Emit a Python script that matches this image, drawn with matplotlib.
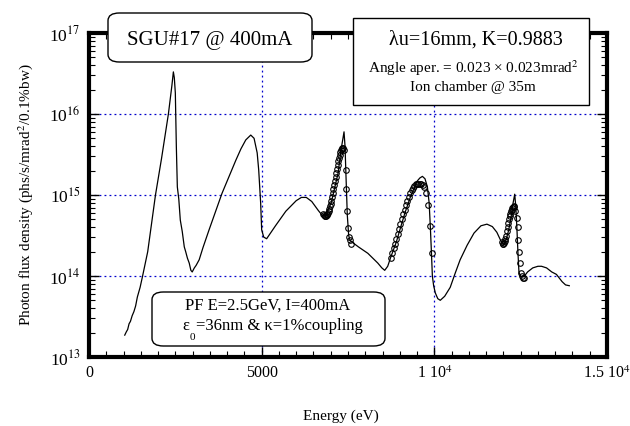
import matplotlib
matplotlib.use('Agg')
import matplotlib.pyplot as plt
from matplotlib.patches import FancyBboxPatch, Rectangle
from matplotlib.ticker import MultipleLocator, LogLocator, NullFormatter
import numpy as np

plt.rcParams['font.family'] = ['Liberation Serif', 'DejaVu Serif']
plt.rcParams['mathtext.fontset'] = 'stix'

# calculated spectrum (energy in eV, log10 of flux density)
calc_e = [1035, 1080, 1120, 1160, 1200, 1250, 1300, 1350, 1400, 1480, 1552, 1700, 1925, 2100,
          2299, 2400, 2443, 2470, 2500, 2529, 2558, 2600, 2644, 2700, 2759, 2800, 2850, 2902,
          2950, 2989, 3050, 3100, 3190, 3300, 3477, 3851, 4253, 4400, 4540, 4684, 4780, 4870,
          4914, 4971, 5000, 5060, 5144, 5400, 5700, 6000, 6150, 6293, 6450, 6638, 6750, 6840,
          7012, 7213, 7300, 7385, 7414, 7443, 7480, 7520, 7560, 7644, 7800, 8075, 8362, 8480,
          8563, 8650, 8736, 8900, 9023, 9150, 9310, 9500, 9580, 9655, 9730, 9799, 9850, 9885,
          9915, 9943, 9980, 10029, 10100, 10172, 10300, 10460, 10600, 10747, 10950, 11149, 11350,
          11523, 11680, 11810, 11920, 12011, 12080, 12155, 12230, 12280, 12328, 12360, 12390,
          12420, 12450, 12500, 12590, 12700, 12850, 13000, 13104, 13250, 13400, 13535, 13700,
          13800, 13908]
calc_logf = [13.27, 13.31, 13.34, 13.41, 13.44, 13.51, 13.56, 13.63, 13.74, 13.86, 14.00, 14.30, 15.00, 15.45,
             16.00, 16.35, 16.52, 16.45, 16.26, 15.60, 15.10, 14.95, 14.69, 14.55, 14.36, 14.30, 14.22, 14.16,
             14.07, 14.05, 14.10, 14.13, 14.20, 14.35, 14.57, 15.02, 15.43, 15.57, 15.68, 15.74, 15.70, 15.52,
             15.31, 14.90, 14.57, 14.48, 14.46, 14.62, 14.80, 14.93, 14.97, 14.97, 14.92, 14.81, 14.75, 14.74,
             14.90, 15.27, 15.56, 15.78, 15.60, 15.22, 14.75, 14.50, 14.44, 14.41, 14.36, 14.28, 14.16, 14.10,
             14.07, 14.12, 14.23, 14.42, 14.60, 14.78, 14.98, 15.17, 15.21, 15.23, 15.20, 15.10, 14.90, 14.60,
             14.30, 14.00, 13.88, 13.79, 13.72, 13.70, 13.75, 13.86, 14.03, 14.20, 14.38, 14.53, 14.62,
             14.64, 14.61, 14.54, 14.44, 14.38, 14.45, 14.57, 14.75, 14.90, 15.01, 14.85, 14.60,
             14.30, 14.05, 13.99, 13.99, 14.05, 14.10, 14.12, 14.12, 14.10, 14.05, 14.02, 13.93,
             13.89, 13.88]

# measured points
meas_e = [6780, 6800, 6820, 6840, 6860, 6880, 6900, 6920, 6940, 6960, 6980, 7000, 7020, 7040,
          7060, 7080, 7100, 7120, 7140, 7160, 7180, 7200, 7220, 7240, 7260, 7280, 7300, 7320,
          7340, 7360, 7380, 7430, 7450, 7480, 7500, 7520, 7550, 7580,
          8740, 8780, 8820, 8860, 8900, 8940, 8980, 9020, 9060, 9100, 9140, 9180, 9220, 9260,
          9300, 9340, 9380, 9420, 9460, 9500, 9540, 9580, 9620, 9660, 9700, 9760, 9820, 9880, 9920,
          11960, 11980, 12000, 12020, 12040, 12060, 12080, 12100, 12120, 12140, 12160, 12180,
          12200, 12220, 12240, 12260, 12280, 12300, 12320, 12350, 12380, 12410, 12430, 12450,
          12470, 12500, 12530, 12560, 12590]
meas_logf = [14.76, 14.75, 14.74, 14.74, 14.74, 14.75, 14.76, 14.78, 14.80, 14.83, 14.86, 14.89, 14.93, 14.97,
             15.02, 15.07, 15.12, 15.17, 15.22, 15.27, 15.32, 15.37, 15.42, 15.46, 15.50, 15.53, 15.55, 15.57,
             15.58, 15.58, 15.55, 15.31, 15.07, 14.80, 14.59, 14.48, 14.44, 14.40,
             14.22, 14.28, 14.34, 14.40, 14.46, 14.52, 14.58, 14.64, 14.70, 14.76, 14.82, 14.88, 14.93, 14.98,
             15.02, 15.06, 15.09, 15.11, 15.13, 15.14, 15.14, 15.14, 15.13, 15.12, 15.10, 15.02, 14.88, 14.62, 14.28,
             14.42, 14.40, 14.40, 14.41, 14.43, 14.46, 14.50, 14.55, 14.60, 14.65, 14.70, 14.74,
             14.77, 14.80, 14.82, 14.84, 14.85, 14.86, 14.85, 14.80, 14.72, 14.60, 14.44, 14.30,
             14.16, 14.04, 14.00, 13.98, 13.98]

xticks = [0, 5000, 10000, 15000]
xticklabels = ['0', '5000', '1 10$^4$', '1.5 10$^4$']
yticks = [1e13, 1e14, 1e15, 1e16, 1e17]
yticklabels = ['10$^{13}$', '10$^{14}$', '10$^{15}$', '10$^{16}$', '10$^{17}$']

W, H = 630, 426
fig = plt.figure(figsize=(W / 100, H / 100), dpi=100)


def fx(p):
    return p / W


def fy(p):
    return 1 - p / H


ax = fig.add_axes([fx(89), fy(357), fx(607) - fx(89), fy(33) - fy(357)])

ax.plot(calc_e, 10 ** np.array(calc_logf), c='k', lw=0.9, zorder=3)
ax.plot(meas_e, 10 ** np.array(meas_logf), 'o', mfc='none', mec='k', ms=4, mew=0.8, zorder=4)

ax.set_yscale('log')
ax.set_xlim(0, 15000)
ax.set_ylim(1e13, 1e17)

ax.set_xticks(xticks)
ax.set_xticklabels(xticklabels)
ax.xaxis.set_minor_locator(MultipleLocator(500))
ax.set_yticks(yticks)
ax.set_yticklabels(yticklabels)
ax.yaxis.set_minor_locator(LogLocator(base=10, subs=np.arange(2, 10), numticks=20))
ax.yaxis.set_minor_formatter(NullFormatter())

ax.tick_params(which='both', direction='in', top=True, right=True, pad=6)
ax.tick_params(axis='x', labelsize=11.5)
ax.tick_params(axis='y', labelsize=12.5)
ax.tick_params(which='major', length=7, width=1)
ax.tick_params(which='minor', length=4, width=0.8)
for s in ax.spines.values():
    s.set_linewidth(3)

ax.grid(True, which='major', color='#0000cc', ls=(0, (1.5, 2.5)), lw=0.9)

fig.text(fx(341), fy(416), 'Energy (eV)', fontsize=11, ha='center', va='center')
ax.set_ylabel('Photon flux density (phs/s/mrad$^2$/0.1%bw)', fontsize=11, labelpad=10)

# text boxes
b1 = FancyBboxPatch((fx(108), fy(62)), fx(312) - fx(108), fy(13) - fy(62),
                    boxstyle='round,pad=0,rounding_size=0.018', transform=fig.transFigure,
                    fc='white', ec='k', lw=1, zorder=10)
fig.patches.append(b1)
fig.text(fx(210), fy(40), 'SGU#17 @ 400mA', fontsize=15, ha='center', va='center', zorder=11)

b2 = Rectangle((fx(353), fy(105)), fx(589) - fx(353), fy(18) - fy(105),
               transform=fig.transFigure, fc='white', ec='k', lw=1, zorder=10)
fig.patches.append(b2)
fig.text(fx(476), fy(40), 'λu=16mm, K=0.9883', fontsize=14.5, ha='center', va='center', zorder=11)
fig.text(fx(473), fy(68), 'Angle aper. = 0.023 × 0.023mrad$^2$', fontsize=11, ha='center', va='center', zorder=11)
fig.text(fx(473), fy(87), 'Ion chamber @ 35m', fontsize=11, ha='center', va='center', zorder=11)

b3 = FancyBboxPatch((fx(152), fy(346)), fx(385) - fx(152), fy(292) - fy(346),
                    boxstyle='round,pad=0,rounding_size=0.018', transform=fig.transFigure,
                    fc='white', ec='k', lw=1, zorder=10)
fig.patches.append(b3)
fig.text(fx(268), fy(306), 'PF E=2.5GeV, I=400mA', fontsize=12, ha='center', va='center', zorder=11)
fig.text(fx(182), fy(326), 'ε', fontsize=12, ha='left', va='center', zorder=11)
fig.text(fx(190), fy(337), '0', fontsize=8, ha='left', va='center', zorder=11)
fig.text(fx(196), fy(326), '=36nm & κ=1%coupling', fontsize=12, ha='left', va='center', zorder=11)

fig.savefig('out.png', dpi=100)
